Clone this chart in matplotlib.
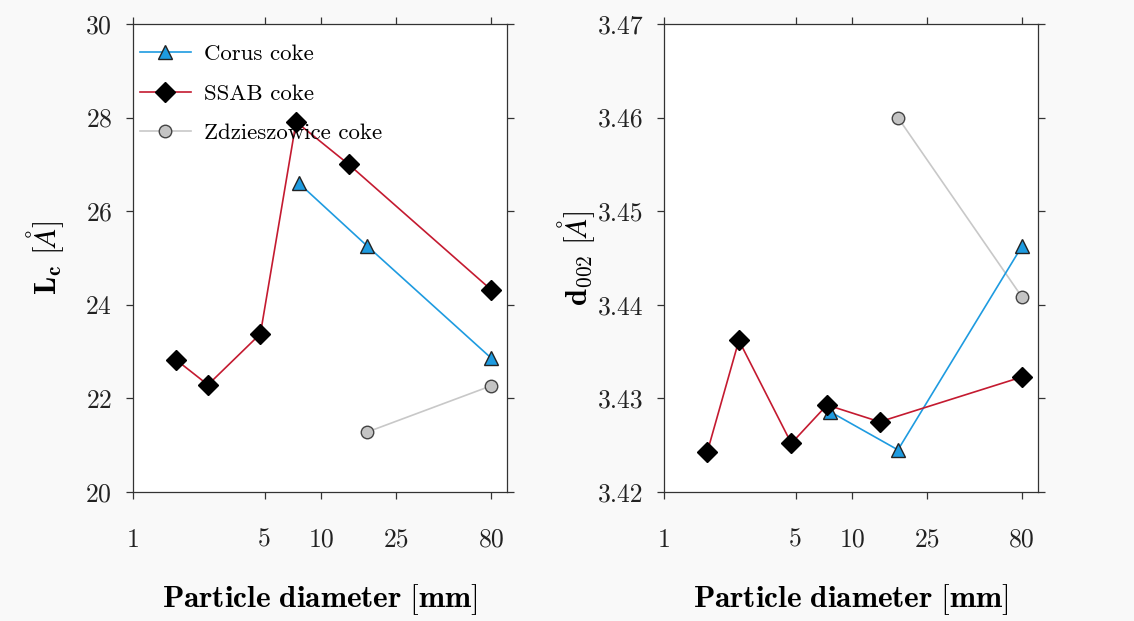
import matplotlib
matplotlib.use("Agg")
import matplotlib.pyplot as plt
from matplotlib.ticker import FixedLocator, FixedFormatter, NullLocator

plt.rcParams["font.family"] = "serif"
plt.rcParams["font.serif"] = ["cmr10"]
plt.rcParams["mathtext.fontset"] = "cm"
plt.rcParams["axes.formatter.use_mathtext"] = True

# particle size fractions [mm]
ssab_d = [1.7, 2.5, 4.75, 7.35, 14, 80]
corus_d = [7.6, 17.5, 80]
zdz_d = [17.5, 80]

# crystallite height Lc [A]
ssab_lc = [22.82, 22.29, 23.38, 27.91, 27.00, 24.32]
corus_lc = [26.60, 25.26, 22.86]
zdz_lc = [21.28, 22.27]

# interlayer spacing d002 [A]
ssab_d002 = [3.4243, 3.4362, 3.4252, 3.4293, 3.4275, 3.4323]
corus_d002 = [3.4286, 3.4245, 3.4463]
zdz_d002 = [3.4600, 3.4408]

xticks = [1, 5, 10, 25, 80]
xticklabels = ["1", "5", "10", "25", "80"]

BLUE = "#1e9be0"
RED = "#c41a30"
GREY = "#c8c8c8"
EDGE = "#222222"

fig = plt.figure(figsize=(11.34, 6.21), dpi=100, facecolor="#f9f9f9")
ax1 = fig.add_axes([0.1173, 0.2077, 0.3298, 0.7536])
ax2 = fig.add_axes([0.5855, 0.2077, 0.3298, 0.7536])


def draw(ax, corus, ssab, zdz):
    ax.plot(corus_d, corus, "-^", color=BLUE, lw=1.2, ms=10,
            mfc=BLUE, mec=EDGE, mew=1.0, label="Corus coke", zorder=3)
    ax.plot(ssab_d, ssab, "-D", color=RED, lw=1.2, ms=10,
            mfc="black", mec="black", mew=1.0, label="SSAB coke", zorder=4)
    ax.plot(zdz_d, zdz, "-o", color=GREY, lw=1.2, ms=9,
            mfc="#c4c4c4", mec="#444444", mew=1.0,
            label="Zdzieszowice coke", zorder=2)
    ax.set_xscale("log")
    ax.set_xlim(1, 97)
    ax.xaxis.set_major_locator(FixedLocator(xticks))
    ax.xaxis.set_major_formatter(FixedFormatter(xticklabels))
    ax.xaxis.set_minor_locator(NullLocator())
    ax.set_facecolor("white")
    for s in ax.spines.values():
        s.set_color("#333333")
        s.set_linewidth(0.9)
    ax.tick_params(which="both", direction="out", length=5, width=0.9,
                   color="#333333", labelsize=18.5, labelcolor="#222222",
                   top=True, right=True, pad=10)
    ax.tick_params(axis="x", pad=21)
    ax.set_xlabel(r"$\mathbf{Particle\ diameter\ [mm]}$", fontsize=22.5,
                  labelpad=22)


draw(ax1, corus_lc, ssab_lc, zdz_lc)
ax1.set_ylim(20, 30)
ax1.set_yticks([20, 22, 24, 26, 28, 30])
ax1.set_ylabel(r"$\mathbf{L_c}\ [\AA]$", fontsize=22, labelpad=14)
ax1.legend(loc="upper left", bbox_to_anchor=(0.019, 0.957), frameon=False,
           fontsize=16.5, handlelength=2.2, labelspacing=0.85,
           borderaxespad=0, borderpad=0, handletextpad=0.6)

draw(ax2, corus_d002, ssab_d002, zdz_d002)
ax2.set_ylim(3.42, 3.47)
ax2.set_yticks([3.42, 3.43, 3.44, 3.45, 3.46, 3.47])
ax2.set_yticklabels(["3.42", "3.43", "3.44", "3.45", "3.46", "3.47"])
ax2.set_ylabel(r"$\mathbf{d_{002}}\ [\AA]$", fontsize=22, labelpad=0)

fig.savefig("out.png", dpi=100, facecolor=fig.get_facecolor())
